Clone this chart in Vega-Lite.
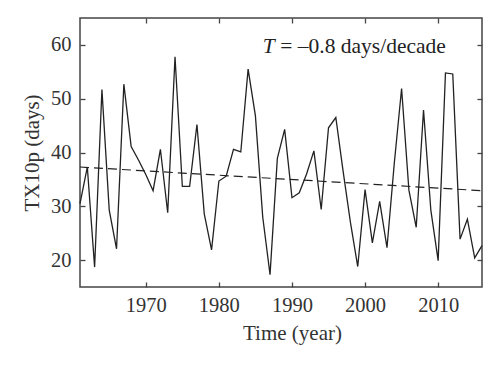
{
  "$schema": "https://vega.github.io/schema/vega-lite/v6.json",
  "width": 402,
  "height": 269,
  "autosize": {"type": "none"},
  "padding": {"left": 80, "top": 18, "right": 18, "bottom": 80},
  "background": "white",
  "config": {
    "view": {"stroke": "#444", "strokeWidth": 1.5},
    "font": "Liberation Serif",
    "axis": {
      "domain": false,
      "grid": false,
      "tickColor": "#444",
      "tickWidth": 1.3,
      "tickSize": -5,
      "labelFont": "Liberation Serif",
      "labelFontSize": 20.5,
      "labelColor": "#333",
      "titleFont": "Liberation Serif",
      "titleFontSize": 21,
      "titleFontWeight": "normal",
      "titleColor": "#333"
    }
  },
  "datasets": {
    "series": [
      {"year": 1961, "days": 30.5}, {"year": 1962, "days": 37.3}, {"year": 1963, "days": 18.7},
      {"year": 1964, "days": 51.7}, {"year": 1965, "days": 29.3}, {"year": 1966, "days": 22.1},
      {"year": 1967, "days": 52.7}, {"year": 1968, "days": 41.1}, {"year": 1969, "days": 38.6},
      {"year": 1970, "days": 35.9}, {"year": 1971, "days": 32.9}, {"year": 1972, "days": 40.6},
      {"year": 1973, "days": 28.8}, {"year": 1974, "days": 57.8}, {"year": 1975, "days": 33.7},
      {"year": 1976, "days": 33.7}, {"year": 1977, "days": 45.2}, {"year": 1978, "days": 28.6},
      {"year": 1979, "days": 21.9}, {"year": 1980, "days": 34.7}, {"year": 1981, "days": 35.6},
      {"year": 1982, "days": 40.6}, {"year": 1983, "days": 40.1}, {"year": 1984, "days": 55.5},
      {"year": 1985, "days": 46.8}, {"year": 1986, "days": 28.0}, {"year": 1987, "days": 17.3},
      {"year": 1988, "days": 38.9}, {"year": 1989, "days": 44.3}, {"year": 1990, "days": 31.6},
      {"year": 1991, "days": 32.5}, {"year": 1992, "days": 36.0}, {"year": 1993, "days": 40.3},
      {"year": 1994, "days": 29.4}, {"year": 1995, "days": 44.6}, {"year": 1996, "days": 46.5},
      {"year": 1997, "days": 36.5}, {"year": 1998, "days": 27.0}, {"year": 1999, "days": 18.8},
      {"year": 2000, "days": 33.1}, {"year": 2001, "days": 23.2}, {"year": 2002, "days": 30.9},
      {"year": 2003, "days": 22.3}, {"year": 2004, "days": 38.0}, {"year": 2005, "days": 51.9},
      {"year": 2006, "days": 33.0}, {"year": 2007, "days": 26.1}, {"year": 2008, "days": 47.9},
      {"year": 2009, "days": 29.3}, {"year": 2010, "days": 19.9}, {"year": 2011, "days": 54.8},
      {"year": 2012, "days": 54.6}, {"year": 2013, "days": 23.9}, {"year": 2014, "days": 27.6},
      {"year": 2015, "days": 20.4}, {"year": 2016, "days": 22.7}
    ],
    "trend": [
      {"year": 1961, "days": 37.3},
      {"year": 2016, "days": 32.9}
    ],
    "labelT": [{"year": 1986.0, "days": 58.5, "t": "T"}],
    "labelRest": [{"year": 1988.4, "days": 58.5, "t": "= –0.8 days/decade"}]
  },
  "layer": [
    {
      "data": {"name": "series"},
      "mark": {"type": "line", "color": "#222", "strokeWidth": 1.3},
      "encoding": {
        "x": {
          "field": "year", "type": "quantitative",
          "scale": {"domain": [1961, 2016], "nice": false, "zero": false},
          "axis": {"orient": "bottom", "values": [1970, 1980, 1990, 2000, 2010], "format": "d",
                   "labelPadding": 13, "title": "Time (year)", "titlePadding": 7, "titleX": 212}
        },
        "y": {
          "field": "days", "type": "quantitative",
          "scale": {"domain": [15, 65], "nice": false, "zero": false},
          "axis": {"orient": "left", "values": [20, 30, 40, 50, 60], "labelPadding": 14,
                   "title": "TX10p (days)", "titlePadding": 8}
        }
      }
    },
    {
      "data": {"name": "trend"},
      "mark": {"type": "line", "color": "#222", "strokeWidth": 1.2, "strokeDash": [9, 5]},
      "encoding": {
        "x": {"field": "year", "type": "quantitative",
              "axis": {"orient": "top", "values": [1970, 1980, 1990, 2000, 2010], "labels": false, "title": null}},
        "y": {"field": "days", "type": "quantitative",
              "axis": {"orient": "right", "values": [20, 30, 40, 50, 60], "labels": false, "title": null}}
      }
    },
    {
      "data": {"name": "labelT"},
      "mark": {"type": "text", "align": "left", "baseline": "alphabetic", "fontSize": 21.5, "fontStyle": "italic", "color": "#222", "font": "Liberation Serif"},
      "encoding": {
        "x": {"field": "year", "type": "quantitative", "axis": null},
        "y": {"field": "days", "type": "quantitative", "axis": null},
        "text": {"field": "t"}
      }
    },
    {
      "data": {"name": "labelRest"},
      "mark": {"type": "text", "align": "left", "baseline": "alphabetic", "fontSize": 21.5, "color": "#222", "font": "Liberation Serif"},
      "encoding": {
        "x": {"field": "year", "type": "quantitative", "axis": null},
        "y": {"field": "days", "type": "quantitative", "axis": null},
        "text": {"field": "t"}
      }
    }
  ],
  "resolve": {"axis": {"x": "independent", "y": "independent"}}
}
